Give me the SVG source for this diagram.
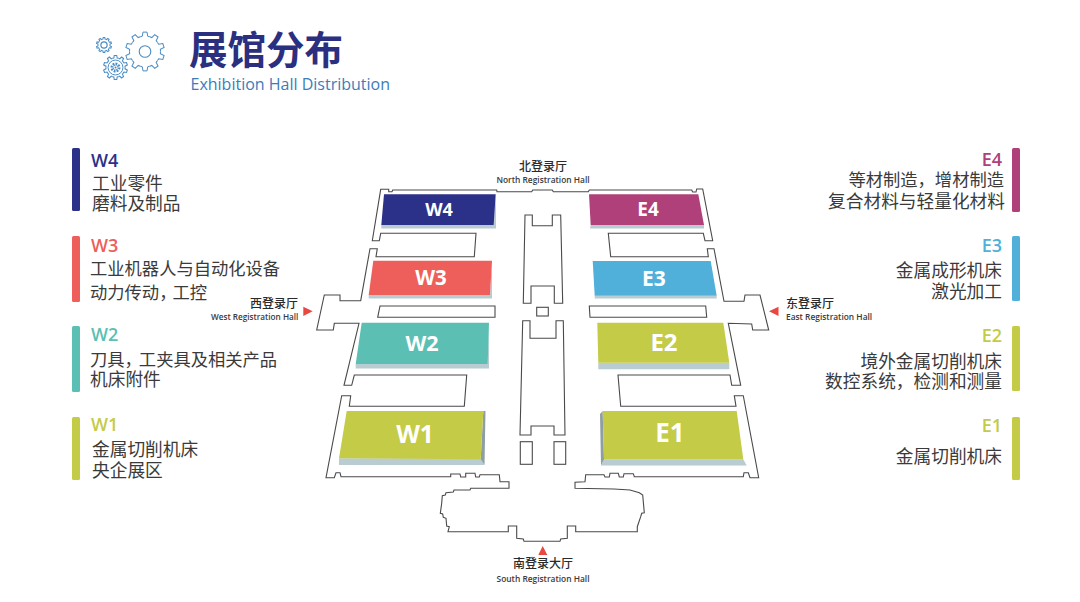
<svg xmlns="http://www.w3.org/2000/svg" xmlns:xlink="http://www.w3.org/1999/xlink" width="1080" height="602" viewBox="0 0 1080 602">
<style>
.cn{font-family:"Noto Sans CJK SC","Noto Sans",sans-serif}
.en{font-family:"Open Sans","Liberation Sans",sans-serif}
.item{font-size:17.7px;fill:#3a3a3a}
.tight{font-size:17.3px}
.key{font-size:18px;font-weight:600}
.hall{font-weight:700;fill:#fff;text-anchor:middle}
.rn{font-size:12px;fill:#2a2a2a;font-weight:500}
.re{font-size:8.4px;fill:#3a3a3a;font-weight:600}
.line{fill:none;stroke:#4a4a4a;stroke-width:1.1;stroke-linejoin:miter}
.sh{fill:#b8ccd2}
.sd{fill:#8f9ea3}
.mk{fill:#e8483f}
.gear{fill:none;stroke:#4a8cc4}
.end{text-anchor:end}
.mid{text-anchor:middle}
</style>
<defs>
<path id="tooth" d="M-4.79-14.74L-2.69-15.26L-2.04-19.39H2.04L2.69-15.26L4.79-14.74"/>
<g id="gearRing">
<use xlink:href="#tooth"/>
<use xlink:href="#tooth" transform="rotate(36)"/>
<use xlink:href="#tooth" transform="rotate(72)"/>
<use xlink:href="#tooth" transform="rotate(108)"/>
<use xlink:href="#tooth" transform="rotate(144)"/>
<use xlink:href="#tooth" transform="rotate(180)"/>
<use xlink:href="#tooth" transform="rotate(216)"/>
<use xlink:href="#tooth" transform="rotate(252)"/>
<use xlink:href="#tooth" transform="rotate(288)"/>
<use xlink:href="#tooth" transform="rotate(324)"/>
</g>
</defs>
<rect width="1080" height="602" fill="#fff"/>

<g id="header">
<g class="gear" stroke-width="1">
<g transform="translate(145,51.5)"><use xlink:href="#gearRing"/><circle r="5.8" stroke-width="1.1"/></g>
<g transform="translate(104,45) scale(.39)" stroke-width="2.6"><use xlink:href="#gearRing"/><circle r="8" stroke-width="3"/></g>
<g transform="translate(115.5,67.5) scale(.62)" stroke-width="1.7"><use xlink:href="#gearRing"/><circle r="12" stroke-width="1.6"/></g>
<circle cx="115.5" cy="67.5" r="3.4" stroke-width="3.2" stroke-dasharray="1.6 1"/>
<circle cx="115.5" cy="67.5" r="1" fill="#4a8cc4" stroke="none"/>
</g>
<text class="cn" x="189" y="64" font-size="38.5" font-weight="700" fill="#2b2f80">展馆分布</text>
<text class="en" x="190.500" y="90" font-size="16" fill="#3d7cb8">Exhibition Hall Distribution</text>
</g>

<g id="plan">
<path class="line" d="M388.700 189.300H380.700L372.300 240.700H379.300L380.700 233.300H476L474.300 256.700H376L377.300 248.700H370L360.700 300.700H340V295H324.300L316.700 330H333.300L334.300 323.300H359L344 385.300H351.700L354.300 375H466.700L464.300 406.300H349.300L350.700 395.700H341.700L326 477.700H334.300L336 472.700H340L341 476.700H450.700V474H460L460.700 477H465.700V473.300H475L475.700 477H479.300L480 474.700H499.300L500 481.700H509V488.300H470.700L470 490H454L453.300 492L446 492.700L445.300 495L442.300 495.700L441.700 503.300L440.300 513.300L442.700 514L443.300 517.300L446 518.300L446.700 526L449.300 526.700L448 531.700H508.300V526H516.700V538.300L523.300 539L524 541.300H560L560.700 539L567.300 538.300V526H575.700V531.700H637.300V526.700L640.700 516.700L641.700 513.300L644.300 512.700L642.700 495L639.300 492.700L630 490L614 489L575 488.300V482.300L585 481.700L585.700 474.700H604L605 477H609.300L610 473.300H618.300L619.300 477H623.300L624 473.700H633.300L634.300 476.700H743.300L744 472.700H748.300L750 477.700H758.700L743.300 395.700H734.300L736 406.300H620.700L618 375H730L731.700 385.300H740.700L728.300 323.300L751.700 324L752.700 330H768.700L760 295H745L744 301.300H724L714 248.700H707.300L708.300 256.700H610.700L608.300 233.300H703.300L705 240.700H712.700L702.700 189H696.700L696 192H692.700L691.700 190H589.300L588.300 191.700H553.300L552.300 190H532.700L531.700 191.700H497L496.700 190H392.700L392 191.700H388.700Z"/>
<path class="line" d="M525 215H532.300V225.700H552.300V215H560.700L562.700 303.300H554.300V286H531V303.300H523.300Z"/>
<path class="line" d="M522.700 320.700H530V338.300H556V320.700H563.300L565 435H554V426H531V435H520Z"/>
<rect class="line" x="536.700" y="307.300" width="11.600" height="8.700"/>
<rect class="line" x="520.300" y="441.700" width="12" height="22.600"/>
<rect class="line" x="554" y="441.700" width="11.700" height="22.600"/>
<path class="line" d="M380 306H495V317.300H377.700Z"/>
<path class="line" d="M589.300 306H705.700L706.700 317.300H590Z"/>
</g>

<g id="hall-W4">
<path class="sh" d="M381.300 225H493.700L496 194.300V228.500H381.300Z"/>
<path fill="#2b3189" d="M384 194.300H495.700L493.700 225H381.300Z"/>
<text class="en hall" x="439" y="216" font-size="18">W4</text>
</g>
<g id="hall-W3">
<path class="sh" d="M368.700 295H490L492 261V298.500H368.700Z"/>
<path fill="#ee5f5b" d="M373.300 260.700H492L490 295H368.700Z"/>
<text class="en hall" x="431" y="285" font-size="20.500">W3</text>
</g>
<g id="hall-W2">
<path class="sh" d="M355.700 364H487.700L489 323V368.500H355.700Z"/>
<path fill="#5bbfb3" d="M361.700 322.700H489L487.700 364H355.700Z"/>
<text class="en hall" x="422" y="351" font-size="21.500">W2</text>
</g>
<g id="hall-W1">
<path class="sh" d="M339 458.300H480.700L484.500 465H339Z"/>
<path class="sd" d="M483.300 411H485.500L484.500 465L480.700 459Z"/>
<path fill="#c4cb47" d="M346.700 411H483.300L480.700 459.300L339 458.300Z"/>
<text class="en hall" x="415" y="443" font-size="24.500">W1</text>
</g>
<g id="hall-E4">
<path class="sh" d="M590.700 225H704V228.500H590Z"/>
<path fill="#b04079" d="M589 194.300H698.300L704 225H590.700Z"/>
<text class="en hall" x="648" y="216" font-size="19">E4</text>
</g>
<g id="hall-E3">
<path class="sh" d="M594.700 295.700H716.700V298.500H594.700Z"/>
<path fill="#51b0da" d="M592.700 261H710.700L716.700 295.700H594.700Z"/>
<text class="en hall" x="654" y="286" font-size="21">E3</text>
</g>
<g id="hall-E2">
<path class="sh" d="M598.300 362.700H729.300V369.300H598.300Z"/>
<path fill="#c4cb47" d="M597.300 322.700H723.300L729.300 362.700H598.300Z"/>
<text class="en hall" x="664" y="351" font-size="24">E2</text>
</g>
<g id="hall-E1">
<path class="sh" d="M604 459.300H743.300L746.700 465.500H601Z"/>
<path class="sd" d="M602.700 411L604 459.300L601 465.500L600 414Z"/>
<path fill="#c4cb47" d="M602.700 411H736.700L743.300 459.300H604Z"/>
<text class="en hall" x="670" y="442" font-size="26">E1</text>
</g>

<g id="reg-north">
<text class="cn rn mid" x="543" y="171">北登录厅</text>
<text class="en re mid" x="543" y="183">North Registration Hall</text>
</g>
<g id="reg-west">
<text class="cn rn" x="250" y="308">西登录厅</text>
<text class="en re" x="211" y="320" font-size="8.200" style="font-size:8.2px">West Registration Hall</text>
<path class="mk" d="M303.300 306.700L312.700 311.300L303.300 316Z"/>
</g>
<g id="reg-east">
<path class="mk" d="M778.500 306.700L769 311.300L778.500 316Z"/>
<text class="cn rn" x="786" y="308">东登录厅</text>
<text class="en re" x="786" y="320">East Registration Hall</text>
</g>
<g id="reg-south">
<path class="mk" d="M538.300 555L542.700 546L547.300 555Z"/>
<text class="cn rn mid" x="543" y="568">南登录大厅</text>
<text class="en re mid" x="543" y="582">South Registration Hall</text>
</g>

<g id="legend-W4">
<rect x="72" y="148" width="8" height="63" rx="1.500" fill="#2b3189"/>
<text class="en key" x="91" y="167" fill="#2b3189">W4</text>
<text class="cn item" x="92" y="190">工业零件</text>
<text class="cn item" x="92" y="210">磨料及制品</text>
</g>
<g id="legend-W3">
<rect x="72" y="236" width="8" height="66" rx="1.500" fill="#ee5f5b"/>
<text class="en key" x="91" y="252" fill="#ee5f5b">W3</text>
<text class="cn item tight" x="90" y="275">工业机器人与自动化设备</text>
<text class="cn item tight" x="90" y="299">动力传动，<tspan dx="-4">工控</tspan></text>
</g>
<g id="legend-W2">
<rect x="72" y="326" width="8" height="66" rx="1.500" fill="#5bbfb3"/>
<text class="en key" x="91" y="341" fill="#5bbfb3">W2</text>
<text class="cn item tight" x="90" y="366">刀具，<tspan dx="-3">工夹具及相关产品</tspan></text>
<text class="cn item" x="90" y="386">机床附件</text>
</g>
<g id="legend-W1">
<rect x="72" y="417" width="8" height="63" rx="1.500" fill="#c4cb47"/>
<text class="en key" x="91" y="431" fill="#c4cb47">W1</text>
<text class="cn item" x="92" y="456">金属切削机床</text>
<text class="cn item" x="92" y="477">央企展区</text>
</g>
<g id="legend-E4">
<rect x="1012" y="148" width="8" height="64" rx="1.500" fill="#b04079"/>
<text class="en key end" x="1002" y="166" fill="#b04079">E4</text>
<text class="cn item tight end" x="1004" y="186">等材制造，增材制造</text>
<text class="cn item end" x="1005" y="208">复合材料与轻量化材料</text>
</g>
<g id="legend-E3">
<rect x="1012" y="236" width="8" height="65" rx="1.500" fill="#51b0da"/>
<text class="en key end" x="1002" y="252" fill="#51b0da">E3</text>
<text class="cn item end" x="1002" y="277">金属成形机床</text>
<text class="cn item end" x="1002" y="298">激光加工</text>
</g>
<g id="legend-E2">
<rect x="1012" y="326" width="8" height="65" rx="1.500" fill="#c4cb47"/>
<text class="en key end" x="1002" y="342" fill="#c4cb47">E2</text>
<text class="cn item end" x="1002" y="368">境外金属切削机床</text>
<text class="cn item end" x="1002" y="388">数控系统，检测和测量</text>
</g>
<g id="legend-E1">
<rect x="1012" y="417" width="8" height="63" rx="1.500" fill="#c4cb47"/>
<text class="en key end" x="1002" y="432" fill="#c4cb47">E1</text>
<text class="cn item end" x="1002" y="463">金属切削机床</text>
</g>
</svg>
